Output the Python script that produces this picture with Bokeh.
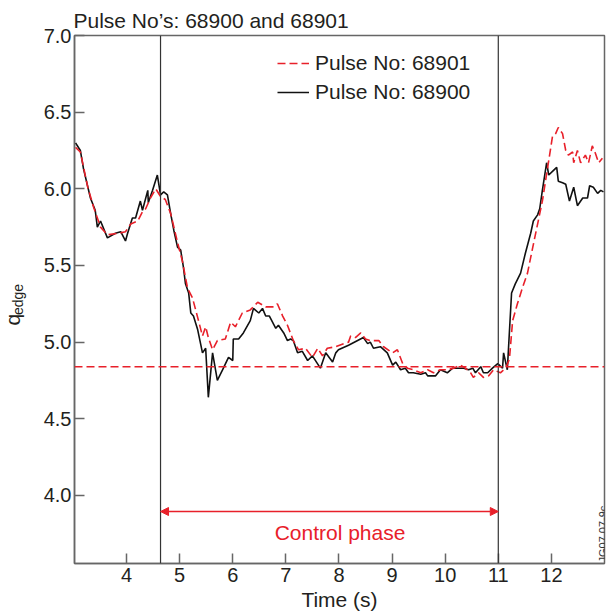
from math import pi
from bokeh.plotting import figure
from bokeh.models import (Span, Label, Arrow, NormalHead, FixedTicker, PrintfTickFormatter,
                          Legend, LegendItem, Range1d, Title)
from bokeh.embed import file_html
from bokeh.resources import INLINE

# Pulse 68900 (solid black)
t_68900 = [3.04, 3.13, 3.19, 3.32, 3.41, 3.45, 3.51, 3.64, 3.79, 3.89, 3.98, 4.02, 4.11, 4.17,
           4.26, 4.30, 4.40, 4.41, 4.49, 4.58, 4.64, 4.70, 4.77, 4.83, 4.89, 4.96, 5.02, 5.07,
           5.11, 5.17, 5.21, 5.26, 5.34, 5.43, 5.49, 5.54, 5.62, 5.71, 5.81, 5.92, 6.00, 6.01,
           6.11, 6.20, 6.33, 6.39, 6.49, 6.56, 6.62, 6.69, 6.81, 6.86, 6.96, 7.03, 7.09, 7.14,
           7.22, 7.31, 7.41, 7.50, 7.65, 7.75, 7.88, 7.94, 7.99, 8.18, 8.46, 8.54, 8.59, 8.65,
           8.78, 8.91, 9.01, 9.07, 9.16, 9.25, 9.31, 9.40, 9.54, 9.63, 9.67, 9.82, 9.91, 10.04,
           10.14, 10.20, 10.25, 10.35, 10.44, 10.52, 10.57, 10.67, 10.72, 10.80, 10.89, 10.99,
           11.08, 11.10, 11.17, 11.25, 11.32, 11.42, 11.51, 11.61, 11.66, 11.74, 11.78, 11.83,
           11.91, 11.95, 12.04, 12.10, 12.13, 12.21, 12.27, 12.34, 12.42, 12.49, 12.59, 12.68,
           12.72, 12.79, 12.87, 12.93, 12.98]
q_68900 = [6.30, 6.25, 6.13, 5.94, 5.86, 5.75, 5.79, 5.68, 5.71, 5.72, 5.66, 5.71, 5.81, 5.81,
           5.92, 5.86, 5.99, 5.91, 5.99, 6.09, 5.96, 5.98, 5.96, 5.84, 5.73, 5.62, 5.60, 5.49,
           5.38, 5.32, 5.19, 5.17, 5.08, 4.93, 4.96, 4.64, 4.93, 4.75, 4.82, 4.90, 4.88, 5.02,
           5.02, 5.06, 5.14, 5.22, 5.19, 5.22, 5.17, 5.17, 5.09, 5.11, 5.06, 5.01, 5.02, 5.01,
           4.93, 4.94, 4.88, 4.91, 4.83, 4.93, 4.87, 4.93, 4.95, 4.98, 5.03, 4.99, 5.00, 4.96,
           4.97, 4.93, 4.85, 4.87, 4.82, 4.83, 4.80, 4.80, 4.79, 4.80, 4.78, 4.78, 4.82, 4.80,
           4.83, 4.83, 4.83, 4.83, 4.82, 4.83, 4.80, 4.84, 4.80, 4.80, 4.83, 4.86,
           4.83, 4.93, 4.82, 5.32, 5.38, 5.45, 5.58, 5.71, 5.79, 5.83, 5.87, 5.99,
           6.17, 6.09, 6.12, 6.14, 6.05, 6.04, 6.03, 5.92, 6.01, 5.89, 5.94, 5.94,
           6.02, 6.01, 5.97, 5.99, 5.98]

# Pulse 68901 (dashed red)
t_68901 = [3.04, 3.13, 3.27, 3.38, 3.51, 3.64, 3.85, 3.98, 4.08, 4.21, 4.30, 4.36, 4.45, 4.55,
           4.64, 4.73, 4.83, 4.96, 5.05, 5.15, 5.24, 5.34, 5.43, 5.49, 5.54, 5.62, 5.71, 5.86,
           5.96, 6.05, 6.18, 6.33, 6.47, 6.62, 6.77, 6.84, 6.94, 7.03, 7.14, 7.24, 7.37, 7.50,
           7.60, 7.69, 7.78, 7.94, 8.09, 8.18, 8.22, 8.31, 8.41, 8.50, 8.59, 8.75, 8.84, 9.01,
           9.10, 9.20, 9.29, 9.40, 9.54, 9.67, 9.78, 9.91, 10.04, 10.16, 10.29, 10.38, 10.48,
           10.53, 10.63, 10.72, 10.82, 10.91, 11.04, 11.14, 11.21, 11.27, 11.36, 11.46, 11.55,
           11.65, 11.74, 11.83, 11.93, 12.02, 12.08, 12.13, 12.21, 12.27, 12.32, 12.40, 12.42,
           12.49, 12.55, 12.64, 12.70, 12.77, 12.83, 12.89, 12.96]
q_68901 = [6.27, 6.24, 6.01, 5.88, 5.75, 5.70, 5.71, 5.72, 5.77, 5.79, 5.85, 5.87, 5.94, 6.00,
           5.95, 5.93, 5.84, 5.65, 5.53, 5.35, 5.29, 5.16, 5.04, 5.10, 5.03, 4.95, 5.01, 5.02,
           5.13, 5.10, 5.19, 5.21, 5.26, 5.23, 5.23, 5.25, 5.17, 5.11, 5.01, 4.95, 4.96, 4.90,
           4.96, 4.91, 4.96, 4.97, 4.99, 5.00, 5.04, 5.03, 5.06, 5.02, 5.01, 5.01, 4.97, 4.93,
           4.95, 4.86, 4.83, 4.82, 4.80, 4.82, 4.80, 4.82, 4.82, 4.83, 4.85, 4.83, 4.80,
           4.77, 4.80, 4.77, 4.78, 4.82, 4.80, 4.83, 4.89, 5.14, 5.25, 5.36, 5.45,
           5.62, 5.77, 5.92, 6.14, 6.34, 6.36, 6.40, 6.36, 6.25, 6.22, 6.24, 6.17,
           6.25, 6.17, 6.22, 6.17, 6.28, 6.23, 6.17, 6.20]

x_ticks = [4, 5, 6, 7, 8, 9, 10, 11, 12]
y_ticks = [4.0, 4.5, 5.0, 5.5, 6.0, 6.5, 7.0]
control_start = 4.64
control_end = 11.0
q_reference = 4.84
arrow_level = 3.895
legend_labels = ["Pulse No: 68901", "Pulse No: 68900"]
figure_id = "JG07.07-9c"
x_min, x_max = 3.02, 13.0
y_min, y_max = 3.556, 7.0

FONT = "Liberation Sans"
RED = "#e8202a"
TXT = "#231f20"
AX = "#666666"

p = figure(width=616, height=616, output_backend="svg", toolbar_location=None,
           x_range=Range1d(x_min, x_max), y_range=Range1d(y_min, y_max),
           min_border_left=74, min_border_right=12, min_border_top=35, min_border_bottom=53)
p.grid.visible = False
p.outline_line_color = AX
p.outline_line_width = 1.5
p.background_fill_color = "white"

# title
p.title.text = "Pulse No\u2019s: 68900 and 68901"
p.title.align = "left"
p.title.offset = -1
p.title.standoff = 8
p.title.text_font = FONT
p.title.text_font_size = "21px"
p.title.text_font_style = "normal"
p.title.text_color = TXT

for ax in (p.xaxis[0], p.yaxis[0]):
    ax.axis_line_color = AX
    ax.axis_line_width = 1.5
    ax.major_tick_line_color = AX
    ax.major_tick_line_width = 1.5
    ax.major_tick_in = 10
    ax.major_tick_out = 0
    ax.minor_tick_line_color = None
    ax.major_label_text_font = FONT
    ax.major_label_text_font_size = "20px"
    ax.major_label_text_color = TXT
    ax.axis_label_text_font = FONT
    ax.axis_label_text_font_style = "normal"
    ax.axis_label_text_color = TXT

p.xaxis[0].ticker = FixedTicker(ticks=x_ticks)
p.yaxis[0].ticker = FixedTicker(ticks=y_ticks)
p.yaxis[0].formatter = PrintfTickFormatter(format="%.1f")
p.xaxis[0].major_label_standoff = 4
p.yaxis[0].major_label_standoff = 3
p.xaxis[0].axis_label = "Time (s)"
p.xaxis[0].axis_label_text_font_size = "21px"
p.xaxis[0].axis_label_standoff = 3
# subscript part of the y label
p.yaxis[0].axis_label = "edge"
p.yaxis[0].axis_label_text_font_size = "14px"
p.yaxis[0].axis_label_standoff = 15

# main part of the y label
p.add_layout(Title(text="q", align="left", offset=238, vertical_align="bottom", standoff=-34,
                   text_font=FONT, text_font_size="21px", text_font_style="normal",
                   text_color=TXT), "left")

# figure id along the right edge (kept just inside the frame so it is not clipped)
p.add_layout(Label(x=x_max, y=y_min, x_offset=-2, y_offset=1, text=figure_id, angle=pi / 2,
                   text_align="left", text_baseline="alphabetic", text_font=FONT,
                   text_font_size="11px", text_color="#333333"))

# reference lines
p.add_layout(Span(location=control_start, dimension="height", line_color="#333333", line_width=1.2))
p.add_layout(Span(location=control_end, dimension="height", line_color="#333333", line_width=1.2))
p.add_layout(Span(location=q_reference, dimension="width", line_color=RED, line_width=1.5,
                  line_dash="8 4"))

r_black = p.line(t_68900, q_68900, line_color="#111111", line_width=1.6)
r_red = p.line(t_68901, q_68901, line_color=RED, line_width=1.6, line_dash="8 4")

legend = Legend(items=[LegendItem(label=legend_labels[0], renderers=[r_red]),
                       LegendItem(label=legend_labels[1], renderers=[r_black])],
                location=(203, 459), border_line_color=None, background_fill_alpha=0,
                padding=0, margin=0, spacing=5, glyph_width=32, glyph_height=24,
                label_height=24, label_standoff=6, label_text_font=FONT,
                label_text_font_size="21px", label_text_color=TXT)
p.add_layout(legend)

# control phase arrow
p.add_layout(Arrow(start=NormalHead(size=8, fill_color=RED, line_color=RED),
                   end=NormalHead(size=8, fill_color=RED, line_color=RED),
                   x_start=control_start, y_start=arrow_level, x_end=control_end, y_end=arrow_level,
                   line_color=RED, line_width=1.5))
p.add_layout(Label(x=8.02, y=3.76, text="Control phase", text_align="center",
                   text_baseline="middle", text_color=RED, text_font=FONT,
                   text_font_size="21px"))

open("out.html", "w").write(file_html(p, INLINE))
